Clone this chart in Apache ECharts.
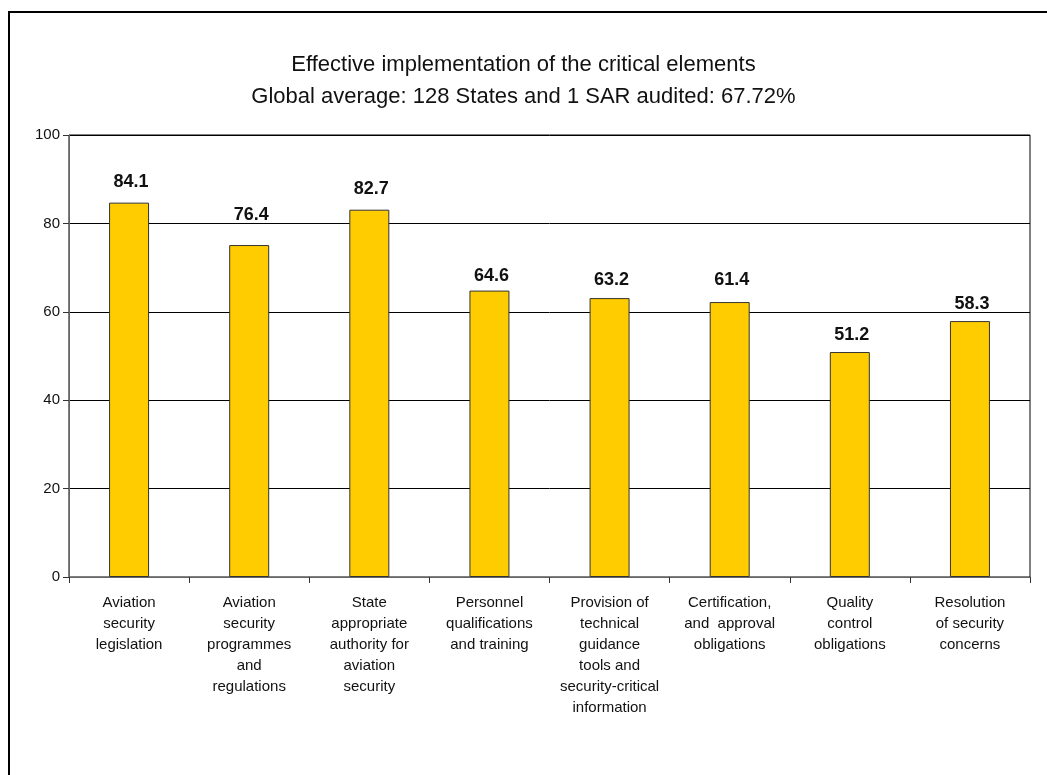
<!DOCTYPE html>
<html>
<head>
<meta charset="utf-8">
<script src="https://cdn.jsdelivr.net/npm/echarts@6/dist/echarts.min.js"></script>
<style>
html,body{margin:0;padding:0;background:#fff;}
#chart{width:1047px;height:775px;}
</style>
</head>
<body>
<div id="chart"></div>
<script>
const titleLines = [
  'Effective implementation of the critical elements',
  'Global average: 128 States and 1 SAR audited: 67.72%'
];
const categories = [
  'Aviation\nsecurity\nlegislation',
  'Aviation\nsecurity\nprogrammes\nand\nregulations',
  'State\nappropriate\nauthority for\naviation\nsecurity',
  'Personnel\nqualifications\nand training',
  'Provision of\ntechnical\nguidance\ntools and\nsecurity-critical\ninformation',
  'Certification,\nand  approval\nobligations',
  'Quality\ncontrol\nobligations',
  'Resolution\nof security\nconcerns'
];
const barValues = [84.7, 75.1, 83.1, 64.8, 63.1, 62.2, 50.9, 57.9];
const valueLabels = ['84.1', '76.4', '82.7', '64.6', '63.2', '61.4', '51.2', '58.3'];
const yTicks = { min: 0, max: 100, interval: 20 };

// label gaps above bars (layout only)
const labelGap = [12, 21, 12, 6, 9, 13, 8, 8];

const FONT = '"Liberation Sans", Arial, sans-serif';

const chart = echarts.init(document.getElementById('chart'), null, {renderer: 'canvas'});
chart.setOption({
  backgroundColor: '#ffffff',
  animation: false,
  textStyle: { fontFamily: FONT },
  title: {
    text: titleLines.join('\n'),
    left: 'center',
    top: 44,
    textStyle: { fontFamily: FONT, fontSize: 22, fontWeight: 'normal', color: '#111', lineHeight: 32 }
  },
  graphic: [{
    type: 'rect',
    shape: { x: 9, y: 12, width: 1200, height: 900 },
    style: { fill: 'none', stroke: '#000', lineWidth: 2 },
    silent: true
  }],
  grid: { left: 69, right: 17, top: 135, bottom: 198, show: true, borderColor: '#000', borderWidth: 1 },
  xAxis: {
    type: 'category',
    data: categories,
    axisLine: { lineStyle: { color: '#666', width: 1 } },
    axisTick: { show: true, alignWithLabel: false, length: 6, lineStyle: { color: '#333' } },
    axisLabel: { interval: 0, margin: 15, fontSize: 15, lineHeight: 21, color: '#111', fontFamily: FONT, align: 'center' }
  },
  yAxis: {
    type: 'value',
    min: yTicks.min, max: yTicks.max, interval: yTicks.interval,
    axisLine: { show: true, lineStyle: { color: '#666', width: 1 } },
    axisTick: { show: true, inside: false, length: 6, lineStyle: { color: '#333' } },
    axisLabel: { fontSize: 15, color: '#111', margin: 9, fontFamily: FONT },
    splitLine: { show: true, lineStyle: { color: '#000', width: 1 } }
  },
  series: [{
    type: 'bar',
    barWidth: 40,
    data: barValues.map((v, i) => ({
      value: v,
      label: { distance: labelGap[i] }
    })),
    itemStyle: { color: '#FFCC00', borderColor: '#333', borderWidth: 1 },
    label: {
      show: true,
      position: 'top',
      offset: [2, 0],
      fontFamily: FONT,
      fontSize: 18,
      fontWeight: 'bold',
      color: '#111',
      formatter: p => valueLabels[p.dataIndex]
    }
  }]
});
</script>
</body>
</html>
